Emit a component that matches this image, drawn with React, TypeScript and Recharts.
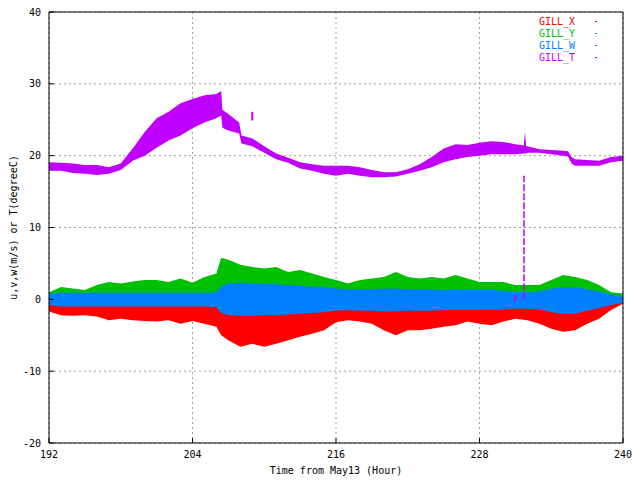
import { Area, CartesianGrid, ComposedChart, Line, XAxis, YAxis } from "recharts";

const HOUR_TICKS = [192, 204, 216, 228, 240];
const VALUE_TICKS = [-20, -10, 0, 10, 20, 30, 40];
const FONT = "'DejaVu Sans Mono', monospace";

// wind components: envelope of the dense point cloud, read per hour
const windHours = [
  192, 193, 194, 195, 196, 197, 198, 199, 200, 201, 202, 203, 204, 205, 206, 206.4, 207, 208, 209, 210, 211, 212,
  213, 214, 215, 216, 217, 218, 219, 220, 221, 222, 223, 224, 225, 226, 227, 228, 229, 230, 231, 232, 233, 234, 235,
  236, 237, 238, 239, 240,
];
const gillXLow = [
  -1.7, -2.2, -2.3, -2.2, -2.4, -2.9, -2.7, -2.9, -3.0, -3.1, -2.9, -3.4, -3.0, -3.4, -3.8, -5.0, -5.7, -6.6, -6.2,
  -6.6, -6.2, -5.7, -5.2, -4.8, -4.3, -3.2, -2.9, -3.1, -3.4, -4.3, -5.0, -4.3, -4.3, -4.1, -3.8, -3.6, -3.1, -3.4,
  -3.6, -3.1, -2.7, -2.9, -3.4, -4.1, -4.5, -4.3, -3.4, -2.7, -1.5, -0.6,
];
const gillXHigh = [
  -0.4, -0.4, -0.4, -0.4, -0.4, -0.4, -0.4, -0.4, -0.4, -0.4, -0.4, -0.4, -0.4, -0.4, -0.4, -0.5, -0.5, -0.5, -0.5,
  -0.5, -0.5, -0.5, -0.5, -0.5, -0.5, -0.5, -0.5, -0.5, -0.5, -0.5, -0.5, -0.5, -0.5, -0.5, -0.5, -0.5, -0.5, -0.5,
  -0.5, -0.5, -0.5, -0.5, -0.5, -0.5, -0.5, -0.5, -0.5, -0.4, -0.3, -0.2,
];
const gillYLow = [
  0.4, 0.4, 0.4, 0.4, 0.4, 0.4, 0.4, 0.4, 0.4, 0.4, 0.4, 0.4, 0.4, 0.4, 0.4, 0.5, 0.5, 0.5, 0.5, 0.5, 0.5, 0.5, 0.5,
  0.5, 0.5, 0.5, 0.5, 0.5, 0.5, 0.5, 0.5, 0.5, 0.5, 0.5, 0.5, 0.5, 0.5, 0.5, 0.5, 0.5, 0.5, 0.5, 0.5, 0.5, 0.5, 0.5,
  0.5, 0.4, 0.3, 0.2,
];
const gillYHigh = [
  1.0, 1.7, 1.5, 1.3, 2.0, 2.4, 2.2, 2.5, 2.7, 2.7, 2.4, 2.9, 2.3, 3.1, 3.6, 5.8, 5.5, 4.8, 4.5, 4.3, 4.5, 3.8, 4.1,
  3.6, 3.1, 2.7, 2.2, 2.7, 2.9, 3.1, 3.8, 3.1, 2.9, 3.1, 2.9, 3.4, 2.9, 2.4, 2.4, 2.4, 2.0, 2.0, 2.0, 2.7, 3.4, 3.1,
  2.7, 2.0, 1.0, 0.8,
];
const gillWLow = [
  -0.8, -1.0, -1.0, -1.0, -1.0, -1.0, -1.0, -1.0, -1.0, -1.0, -1.0, -1.0, -1.0, -1.0, -1.1, -1.9, -2.2, -2.3, -2.3,
  -2.2, -2.2, -2.1, -2.0, -1.9, -1.8, -1.6, -1.5, -1.6, -1.6, -1.7, -1.7, -1.6, -1.6, -1.6, -1.5, -1.5, -1.5, -1.5,
  -1.5, -1.4, -1.3, -1.3, -1.4, -1.8, -2.0, -2.0, -1.6, -1.2, -0.8, -0.5,
];
const gillWHigh = [
  0.8, 0.9, 0.9, 0.9, 0.9, 0.9, 0.9, 0.9, 0.9, 0.9, 0.9, 0.9, 0.9, 0.9, 1.0, 1.8, 2.2, 2.3, 2.2, 2.2, 2.1, 2.0, 1.9,
  1.8, 1.7, 1.5, 1.4, 1.4, 1.4, 1.5, 1.5, 1.4, 1.4, 1.4, 1.3, 1.4, 1.3, 1.3, 1.3, 1.2, 1.0, 1.0, 1.1, 1.5, 1.7, 1.7,
  1.4, 1.1, 0.7, 0.4,
];

// air temperature band
const tHours = [
  192, 193, 194, 195, 196, 197, 198, 199, 200, 201, 202, 203, 204, 205, 206, 206.4, 206.5, 207, 207.9, 208.1, 209,
  210, 211, 212, 213, 214, 215, 216, 217, 218, 219, 220, 221, 222, 223, 224, 225, 226, 227, 228, 229, 230, 231,
  231.7, 231.8, 231.9, 232, 233, 234, 235, 235.4, 235.7, 236, 237, 238, 239, 240,
];
const tLow = [
  17.9, 17.9, 17.6, 17.5, 17.3, 17.5, 18.0, 19.3, 20.0, 21.1, 22.1, 22.8, 23.8, 24.6, 25.2, 25.6, 23.9, 23.5, 23.1,
  21.7, 21.3, 20.4, 19.5, 19.0, 18.2, 17.9, 17.5, 17.2, 17.5, 17.2, 17.0, 17.0, 17.1, 17.5, 17.9, 18.4, 19.1, 19.5,
  19.8, 20.0, 20.2, 20.2, 20.2, 20.3, 20.3, 20.3, 20.4, 20.4, 20.2, 20.0, 19.9, 18.9, 18.6, 18.6, 18.6, 19.1, 19.3,
];
const tHigh = [
  19.1, 19.0, 18.9, 18.7, 18.7, 18.4, 18.9, 21.0, 23.3, 25.2, 26.1, 27.3, 27.9, 28.4, 28.6, 29.0, 26.4, 25.8, 24.6,
  22.8, 22.4, 21.3, 20.3, 19.7, 19.1, 18.8, 18.6, 18.6, 18.6, 18.4, 18.0, 17.7, 17.7, 18.1, 18.8, 19.8, 21.0, 21.6,
  21.5, 21.8, 22.0, 21.9, 21.6, 21.4, 23.3, 21.3, 21.3, 20.9, 20.8, 20.7, 20.6, 19.8, 19.5, 19.4, 19.3, 19.8, 20.0,
];

// isolated temperature spikes (hour, from, to)
const spikeHours = [209.0, 231.0, 231.72];
const spikeFrom = [24.9, -0.3, 0.0];
const spikeTo = [26.1, 0.6, 17.2];

const COLORS = { x: "#ff0000", y: "#00c000", w: "#0080ff", t: "#c000ff" };
const LEGEND = [
  { name: "GILL_X", color: COLORS.x },
  { name: "GILL_Y", color: COLORS.y },
  { name: "GILL_W", color: COLORS.w },
  { name: "GILL_T", color: COLORS.t },
];

const tickStyle = { fill: "#000", fontSize: 10, fontFamily: FONT };

function YTitle({ viewBox }: any) {
  const cx = viewBox.x + 13;
  const cy = viewBox.y + viewBox.height / 2;
  return (
    <text
      x={cx}
      y={cy}
      transform={`rotate(-90 ${cx} ${cy})`}
      textAnchor="middle"
      dominantBaseline="central"
      fill="#000"
      fontSize={10}
      fontFamily={FONT}
    >
      u,v,w(m/s) or T(degreeC)
    </text>
  );
}

export default function App() {
  const wind = windHours.map((h, i) => ({
    h,
    x: [gillXLow[i], gillXHigh[i]],
    y: [gillYLow[i], gillYHigh[i]],
    w: [gillWLow[i], gillWHigh[i]],
  }));
  const temp = tHours.map((h, i) => ({ h, t: [tLow[i], tHigh[i]] }));
  const spikes = spikeHours.map((h, i) => [
    { h, v: spikeFrom[i] },
    { h, v: spikeTo[i] },
  ]);

  const band = { type: "linear" as const, stroke: "none", fillOpacity: 1, dot: false, activeDot: false, isAnimationActive: false };

  return (
    <div style={{ position: "absolute", left: 0, top: 0, width: 640, height: 480, background: "#fff" }}>
      <ComposedChart width={640} height={480} margin={{ top: 11, right: 16, bottom: 0, left: 0 }}>
        <CartesianGrid stroke="#a0a0a0" strokeDasharray="2 3" />
        <XAxis
          dataKey="h"
          type="number"
          domain={[192, 240]}
          ticks={HOUR_TICKS}
          height={37}
          stroke="#000"
          tickSize={-5}
          tickMargin={13}
          tick={tickStyle}
          label={{ value: "Time from May13 (Hour)", position: "insideBottom", offset: 6, fill: "#000", fontSize: 10, fontFamily: FONT }}
        />
        <XAxis
          xAxisId="top"
          orientation="top"
          dataKey="h"
          type="number"
          domain={[192, 240]}
          ticks={HOUR_TICKS}
          height={1}
          stroke="#000"
          tickSize={-5}
          tickFormatter={() => ""}
        />
        <YAxis
          type="number"
          domain={[-20, 40]}
          ticks={VALUE_TICKS}
          width={49}
          stroke="#000"
          tickSize={-5}
          tickMargin={13}
          tick={tickStyle}
          label={<YTitle />}
        />
        <YAxis
          yAxisId="right"
          orientation="right"
          type="number"
          domain={[-20, 40]}
          ticks={VALUE_TICKS}
          width={1}
          stroke="#000"
          tickSize={-5}
          tickFormatter={() => ""}
        />
        <Area {...band} data={wind} dataKey="x" fill={COLORS.x} />
        <Area {...band} data={wind} dataKey="y" fill={COLORS.y} />
        <Area {...band} data={wind} dataKey="w" fill={COLORS.w} />
        <Area {...band} data={temp} dataKey="t" fill={COLORS.t} />
        {spikes.map((s, i) => (
          <Line
            key={i}
            data={s}
            dataKey="v"
            stroke={COLORS.t}
            strokeWidth={i === 2 ? 1.5 : 2}
            strokeDasharray={i === 2 ? "7 2" : undefined}
            dot={false}
            activeDot={false}
            isAnimationActive={false}
          />
        ))}
      </ComposedChart>
      {LEGEND.map((l, i) => (
        <div key={l.name}>
          <div
            style={{
              position: "absolute",
              right: 65,
              top: 16 + i * 12,
              lineHeight: "12px",
              fontSize: 10,
              fontFamily: FONT,
              color: l.color,
            }}
          >
            {l.name}
          </div>
          <div style={{ position: "absolute", left: 595, top: 21 + i * 12, width: 2, height: 1, background: l.color }} />
        </div>
      ))}
    </div>
  );
}
